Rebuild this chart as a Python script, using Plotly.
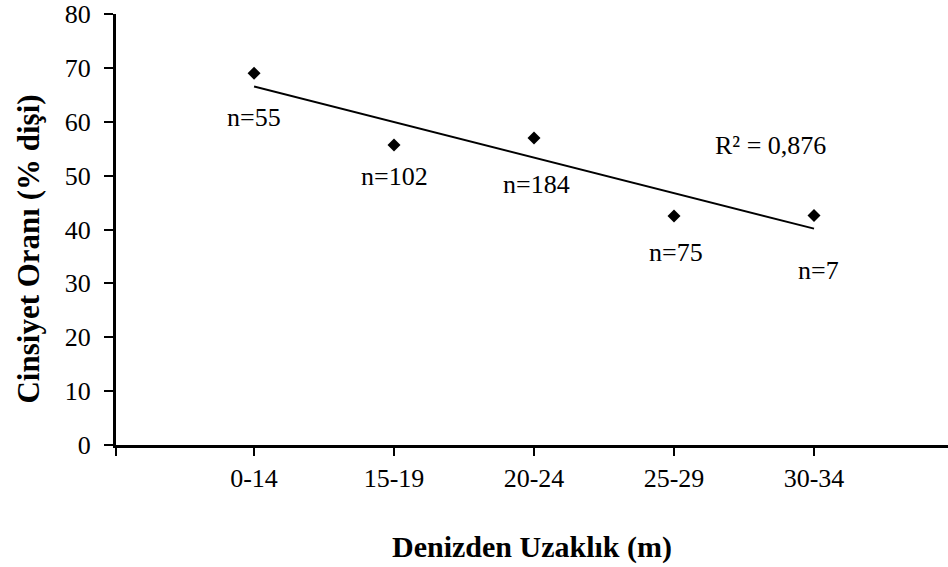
import numpy as np
import plotly.graph_objects as go

# Distance-from-sea classes and female share (%) per class
categories = ["0-14", "15-19", "20-24", "25-29", "30-34"]
female_pct = [69.0, 55.7, 57.0, 42.5, 42.6]
sample_sizes = [55, 102, 184, 75, 7]

xs = np.arange(len(categories))
slope, intercept = np.polyfit(xs, female_pct, 1)
fit = slope * xs + intercept
ss_res = np.sum((np.array(female_pct) - fit) ** 2)
ss_tot = np.sum((np.array(female_pct) - np.mean(female_pct)) ** 2)
r2 = 1 - ss_res / ss_tot

FONT = "Liberation Serif, Times New Roman, serif"

fig = go.Figure()
fig.add_trace(go.Scatter(
    x=[xs[0], xs[-1]], y=[fit[0], fit[-1]], mode="lines",
    line=dict(color="black", width=2), hoverinfo="skip", showlegend=False,
))
fig.add_trace(go.Scatter(
    x=xs, y=female_pct, mode="markers",
    marker=dict(symbol="diamond", size=10, color="black"),
    showlegend=False,
))

# sample-size labels, nudged below each point (pixel offsets)
label_dx = [0, 0, 2, 2, 4]
label_dy = [-44, -32, -47, -36, -55]
for i, n in enumerate(sample_sizes):
    fig.add_annotation(
        x=xs[i], y=female_pct[i], text=f"n={n}", showarrow=False,
        xshift=label_dx[i], yshift=label_dy[i],
        font=dict(family=FONT, size=26, color="black"),
    )

fig.add_annotation(
    x=3.69, y=55.5, text=f"R² = {r2:.3f}".replace(".", ","), showarrow=False,
    font=dict(family=FONT, size=26, color="black"),
)

# vertical axis title, set a little below the plot's midline
fig.add_annotation(
    xref="paper", yref="paper", x=-0.105, y=0.455, textangle=-90,
    text="<b>Cinsiyet Oranı (% dişi)</b>", showarrow=False,
    xanchor="center", yanchor="middle",
    font=dict(family=FONT, size=31, color="black"),
)

fig.update_layout(
    width=948, height=567,
    margin=dict(l=116, r=0, t=14, b=122),
    paper_bgcolor="white", plot_bgcolor="white",
    font=dict(family=FONT, size=26, color="black"),
    xaxis=dict(
        range=[-0.986, 4.957], tickmode="array",
        tickvals=[-0.986] + list(xs), ticktext=[""] + categories,
        showgrid=False, zeroline=False, showline=True,
        linecolor="black", linewidth=3,
        ticks="outside", ticklen=8, tickwidth=2, tickcolor="black",
        title=dict(text="<b>Denizden Uzaklık (m)</b>", standoff=44,
                   font=dict(family=FONT, size=30)),
    ),
    yaxis=dict(
        range=[0, 80], tickmode="array", tickvals=list(range(0, 81, 10)),
        showgrid=False, zeroline=False, showline=True,
        linecolor="black", linewidth=3,
        ticks="outside", ticklen=9, tickwidth=2, tickcolor="black",
        ticklabelstandoff=8,
    ),
)

fig.write_html("out.html")
